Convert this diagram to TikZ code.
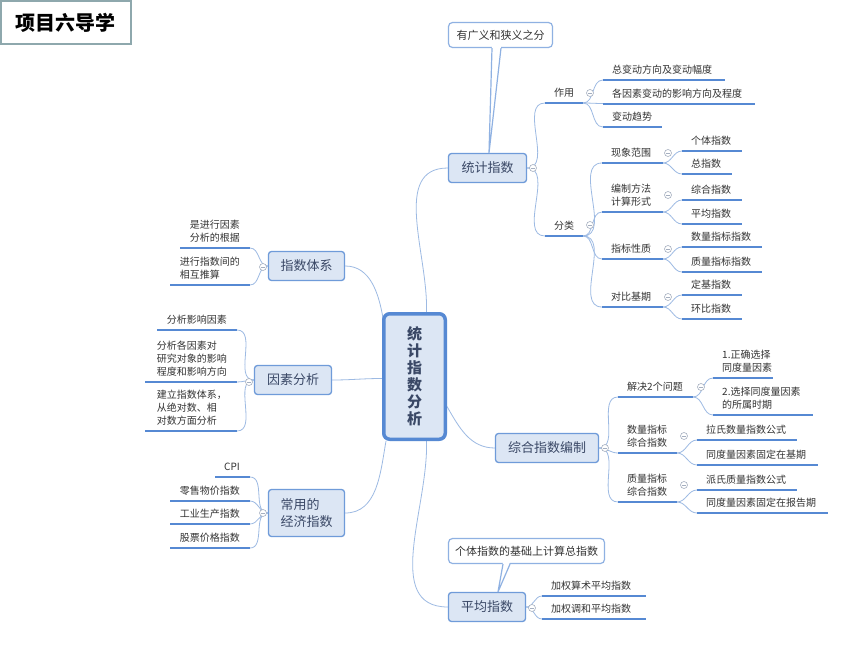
\documentclass[tikz,border=0pt]{standalone}
\usepackage{fontspec}
\setmainfont{Noto Sans CJK SC}
\usetikzlibrary{calc,backgrounds}
\definecolor{ulc}{HTML}{5689D3}
\definecolor{lnc}{HTML}{9DBAE3}
\definecolor{bxf}{HTML}{DCE6F4}
\definecolor{bxd}{HTML}{6F9BD9}
\definecolor{txc}{HTML}{333333}
\definecolor{bxt}{HTML}{3A4866}
\definecolor{knc}{HTML}{A5AFC0}
\definecolor{ttl}{HTML}{8EA8AD}
\definecolor{col}{HTML}{8FB1E2}
\tikzset{
 uline/.style={draw=ulc, line width=2pt},
 conn/.style={draw=lnc, line width=0.8pt},
 lf/.style={inner sep=0pt, text=txc, font=\fontsize{10}{13}\selectfont, align=left, text depth=2pt},
 box/.style={draw=bxd, fill=bxf, line width=1.3pt, rounded corners=3pt, text=bxt, font=\fontsize{13}{17}\selectfont, inner sep=0pt},
 callout/.style={draw=col, fill=white, line width=1.2pt, rounded corners=4pt, text=txc, font=\fontsize{11}{13}\selectfont, inner sep=0pt},
 coline/.style={draw=col, line width=1.2pt, line join=round},
 knob/.style={circle, draw=knc, line width=0.6pt, fill=white, minimum size=7pt, inner sep=0pt,
   path picture={\draw[knc, line width=0.6pt] ([xshift=-2pt]path picture bounding box.center) -- ([xshift=2pt]path picture bounding box.center);}},
}
\newcommand{\myrleaf}[5]{%
 \coordinate (#1) at (#2,#4);
 \coordinate (#1-e) at (#3,#4);
 \draw[uline] (#1) -- (#1-e);
 \node[lf, anchor=south west] (#1-t) at ($(#1)+(9,-4)$) {#5};
}
\newcommand{\mylleaf}[5]{%
 \coordinate (#1) at (#2,#4);
 \coordinate (#1-e) at (#3,#4);
 \draw[uline] (#1) -- (#1-e);
 \node[lf, anchor=south east] (#1-t) at ($(#1-e)+(-10,-4)$) {#5};
}
\begin{document}
\begin{tikzpicture}[x=1pt,y=-1pt]
\useasboundingbox (0,0) rectangle (860,645);
% title
\node[draw=ttl, line width=2pt, minimum width=130pt, minimum height=43pt, inner sep=0pt,
  font=\bfseries\fontsize{20}{22}\selectfont, text=black] (title) at (66,22.5) {项目六导学};
% central
\node[box, line width=3.5pt, draw=ulc, rounded corners=6pt, minimum width=61.5pt, minimum height=125.5pt,
  font=\bfseries\fontsize{15}{17}\selectfont, align=center] (m) at (414.5,376.5) {统\\计\\指\\数\\分\\析};
% main topics
\node[box, minimum width=78pt, minimum height=29pt] (s1) at (487.5,168) {统计指数};
\node[box, minimum width=103pt, minimum height=29pt] (s2) at (547,448) {综合指数编制};
\node[box, minimum width=77pt, minimum height=29pt] (s3) at (487,607) {平均指数};
\node[box, minimum width=76pt, minimum height=29pt] (s4) at (306.5,266) {指数体系};
\node[box, minimum width=77pt, minimum height=29pt] (s5) at (293,380) {因素分析};
\node[box, minimum width=76pt, minimum height=47pt, align=left] (s6) at (306.5,513) {常用的\\经济指数};
% callouts
\node[callout, minimum width=104pt, minimum height=25pt] (co1) at (500.5,35) {有广义和狭义之分};
\node[callout, minimum width=156pt, minimum height=25pt] (co2) at (526.5,551) {个体指数的基础上计算总指数};
\fill[white] ($(co1.south)+(-8.5,-2)$) -- ($(s1.north)+(1.5,0)$) -- ($(co1.south)+(0.5,-2)$) -- cycle;
\draw[coline] ($(co1.south)+(-8.5,0)$) -- ($(s1.north)+(1.5,0)$) -- ($(co1.south)+(0.5,0)$);
\fill[white] ($(co2.south)+(-23.5,-2)$) -- ($(s3.north)+(11,0)$) -- ($(co2.south)+(-16.5,-2)$) -- cycle;
\draw[coline] ($(co2.south)+(-23.5,0)$) -- ($(s3.north)+(11,0)$) -- ($(co2.south)+(-16.5,0)$);
% leaves of 统计指数
\myrleaf{a}{545}{583}{103}{作用}
\myrleaf{b}{545}{583}{236}{分类}
\myrleaf{a1}{603}{725}{80}{总变动方向及变动幅度}
\myrleaf{a2}{603}{755}{103.5}{各因素变动的影响方向及程度}
\myrleaf{a3}{603}{662}{127}{变动趋势}
\myrleaf{b1}{602}{663}{163}{现象范围}
\myrleaf{b2}{602}{663}{212}{编制方法\\计算形式}
\myrleaf{b3}{602}{663}{259}{指标性质}
\myrleaf{b4}{602}{663}{307}{对比基期}
\myrleaf{b11}{682}{742}{151}{个体指数}
\myrleaf{b12}{682}{732}{174}{总指数}
\myrleaf{b21}{682}{742}{200}{综合指数}
\myrleaf{b22}{682}{742}{224}{平均指数}
\myrleaf{b31}{682}{762}{247}{数量指标指数}
\myrleaf{b32}{682}{762}{272}{质量指标指数}
\myrleaf{b41}{682}{742}{295}{定基指数}
\myrleaf{b42}{682}{742}{319}{环比指数}
% leaves of 综合指数编制
\myrleaf{c1}{618}{693}{397}{解决2个问题}
\myrleaf{c2}{618}{677}{453}{数量指标\\综合指数}
\myrleaf{c3}{618}{677}{502}{质量指标\\综合指数}
\myrleaf{c11}{713}{773}{378}{1.正确选择\\同度量因素}
\myrleaf{c12}{713}{813}{415}{2.选择同度量因素\\的所属时期}
\myrleaf{c21}{697}{797}{440}{拉氏数量指数公式}
\myrleaf{c22}{697}{818}{465}{同度量因素固定在基期}
\myrleaf{c31}{697}{797}{490}{派氏质量指数公式}
\myrleaf{c32}{697}{828}{513}{同度量因素固定在报告期}
% leaves of 平均指数
\myrleaf{d1}{542}{646}{596}{加权算术平均指数}
\myrleaf{d2}{542}{646}{619}{加权调和平均指数}
% left leaves
\mylleaf{e1}{180}{250}{248}{是进行因素\\分析的根据}
\mylleaf{e2}{170}{250}{285}{进行指数间的\\相互推算}
\mylleaf{f1}{157}{237}{330}{分析影响因素}
\mylleaf{f2}{145}{237}{382}{分析各因素对\\研究对象的影响\\程度和影响方向}
\mylleaf{f3}{145}{237}{431}{建立指数体系，\\从绝对数、相\\对数方面分析}
\mylleaf{g1}{215}{250}{477}{CPI}
\mylleaf{g2}{170}{250}{501}{零售物价指数}
\mylleaf{g3}{170}{250}{524}{工业生产指数}
\mylleaf{g4}{170}{250}{548}{股票价格指数}
% knobs
\node[knob] (k-s1) at (533,168) {};
\node[knob] (k-a) at (590,93) {};
\node[knob] (k-b) at (590,225) {};
\node[knob] (k-b1) at (668,153) {};
\node[knob] (k-b2) at (668,195) {};
\node[knob] (k-b3) at (668,249) {};
\node[knob] (k-b4) at (668,297) {};
\node[knob] (k-s2) at (605,448) {};
\node[knob] (k-c1) at (701,387) {};
\node[knob] (k-c2) at (684,436) {};
\node[knob] (k-c3) at (684,485) {};
\node[knob] (k-s3) at (532,608) {};
\node[knob] (k-s4) at (263,267) {};
\node[knob] (k-s5) at (249,382) {};
\node[knob] (k-s6) at (263,513) {};
% connectors
\begin{scope}[on background layer]
\fill[white] (0,0) rectangle (860,645);
\draw[conn] ($(m.north)+(12,0)$) to[out=88,in=180] (s1.west);
\draw[conn] ($(m.east)+(0,30)$) to[out=-60,in=180] (s2.west);
\draw[conn] ($(m.south)+(12,0)$) to[out=-88,in=180] (s3.west);
\draw[conn] ($(m.north west)+(1,6)$) to[out=100,in=0] (s4.east);
\draw[conn] ($(m.west)+(0,2)$) to[out=180,in=0] (s5.east);
\draw[conn] ($(m.south west)+(4,0)$) to[out=-100,in=0] (s6.east);
\foreach \c in {a,b} \draw[conn] (s1.east) to[out=0,in=180] (\c);
\foreach \c in {a1,a2,a3} \draw[conn] (a-e) to[out=0,in=180] (\c);
\foreach \c in {b1,b2,b3,b4} \draw[conn] (b-e) to[out=0,in=180] (\c);
\foreach \p in {b1,b2,b3,b4} {\foreach \q in {1,2} \draw[conn] (\p-e) to[out=0,in=180] (\p\q);}
\foreach \c in {c1,c2,c3} \draw[conn] (s2.east) to[out=0,in=180] (\c);
\foreach \p in {c1,c2,c3} {\foreach \q in {1,2} \draw[conn] (\p-e) to[out=0,in=180] (\p\q);}
\foreach \c in {d1,d2} \draw[conn] (s3.east) to[out=0,in=180] (\c);
\foreach \c in {e1,e2} \draw[conn] (s4.west) to[out=180,in=0] (\c-e);
\foreach \c in {f1,f2,f3} \draw[conn] (s5.west) to[out=180,in=0] (\c-e);
\foreach \c in {g1,g2,g3,g4} \draw[conn] (s6.west) to[out=180,in=0] (\c-e);
\end{scope}
\end{tikzpicture}
\end{document}
